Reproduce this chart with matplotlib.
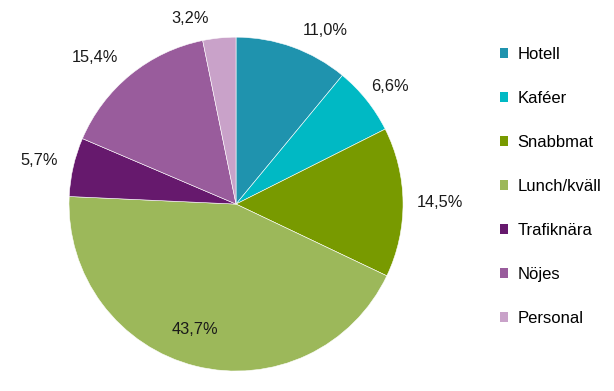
import matplotlib.pyplot as plt
from matplotlib.patches import Patch

plt.rcParams['font.family'] = ['Liberation Sans', 'DejaVu Sans']

categories = ['Hotell', 'Kaféer', 'Snabbmat', 'Lunch/kväll', 'Trafiknära', 'Nöjes', 'Personal']
shares = [11.0, 6.6, 14.5, 43.7, 5.7, 15.4, 3.2]
colors = ['#1F93AE', '#00B9C4', '#789A00', '#9CB85A', '#66196D', '#995C9C', '#C9A2C9']
# label positions in pie units (radius = 1)
label_pos = [(0.533, 1.042), (0.922, 0.707), (1.222, 0.012), (-0.246, -0.754),
             (-1.180, 0.263), (-0.844, 0.880), (-0.275, 1.114)]

fig = plt.figure(figsize=(6.14, 3.91), dpi=100)
ax = fig.add_axes([0.1124, 0.051, 0.544, 0.854])

wedges, _ = ax.pie(shares, colors=colors, startangle=90, counterclock=False,
                   radius=1.0, wedgeprops=dict(edgecolor='white', linewidth=0.4))
ax.set_xlim(-1, 1)
ax.set_ylim(-1, 1)
ax.set_aspect('auto')

for v, (x, y) in zip(shares, label_pos):
    ax.text(x, y, f'{v:.1f}%'.replace('.', ','), ha='center', va='center',
            fontsize=11.8, color='#1a1a1a')

handles = [Patch(facecolor=c, edgecolor='none') for c in colors]
fig.legend(handles, categories, loc='upper left', bbox_to_anchor=(0.803, 0.897),
           frameon=False, fontsize=12, handlelength=0.47, handleheight=0.47,
           handletextpad=0.6, labelspacing=1.74, borderaxespad=0)

fig.savefig('out.png', dpi=100)
